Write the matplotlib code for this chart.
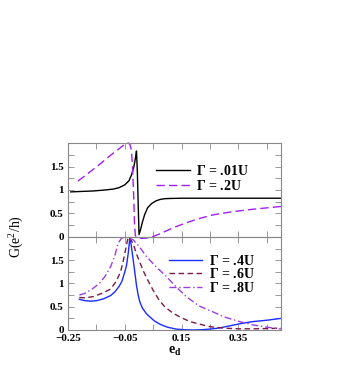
import numpy as np
import matplotlib
matplotlib.use('Agg')
import matplotlib.pyplot as plt
from matplotlib.ticker import FixedLocator, MultipleLocator, FuncFormatter

plt.rcParams['font.family'] = ['Liberation Serif', 'DejaVu Serif']
plt.rcParams['mathtext.fontset'] = 'custom'
plt.rcParams['mathtext.rm'] = 'Liberation Serif'
plt.rcParams['mathtext.bf'] = 'Liberation Serif:bold'

# top panel: Gamma = .01U (solid black) and .2U (dashed purple)
x_01 = [-0.24, -0.20, -0.16, -0.12, -0.09, -0.07, -0.05, -0.035, -0.026, -0.018, -0.012,
        -0.009, -0.006, -0.003, 0.0, 0.005, 0.012, 0.02, 0.03, 0.044, 0.06, 0.075, 0.09,
        0.11, 0.15, 0.25, 0.35, 0.5]
g_01 = [0.96, 0.97, 0.98, 1.0, 1.02, 1.05, 1.11, 1.2, 1.33, 1.5, 1.7,
        1.83, 1.4, 0.7, 0.05, 0.15, 0.32, 0.48, 0.62, 0.71, 0.77, 0.80, 0.815,
        0.82, 0.825, 0.825, 0.825, 0.825]

x_02 = [-0.215, -0.18, -0.14, -0.10, -0.07, -0.055, -0.045, -0.038, -0.032, -0.027, -0.023,
        -0.019, -0.016, -0.013, -0.005, 0.01, 0.03, 0.045, 0.07, 0.10, 0.13, 0.17, 0.21,
        0.26, 0.33, 0.40, 0.45, 0.5]
g_02 = [1.19, 1.35, 1.54, 1.74, 1.88, 1.95, 1.99, 2.0, 1.97, 1.85, 1.5,
        0.9, 0.3, 0.03, -0.02, -0.03, -0.02, 0.0, 0.06, 0.14, 0.22, 0.31, 0.39,
        0.47, 0.54, 0.59, 0.62, 0.65]

# bottom panel: Gamma = .4U, .6U, .8U
x_04 = [-0.21, -0.19, -0.17, -0.15, -0.125, -0.10, -0.085, -0.07, -0.06, -0.05, -0.044,
        -0.038, -0.032, -0.027, -0.021, -0.015, -0.009, -0.003, 0.003, 0.012, 0.026, 0.04,
        0.055, 0.075, 0.10, 0.13, 0.16, 0.19, 0.22, 0.25, 0.28, 0.32, 0.36, 0.40, 0.45, 0.5]
g_04 = [0.66, 0.63, 0.62, 0.63, 0.67, 0.74, 0.82, 0.94, 1.05, 1.25, 1.39,
        1.65, 2.0, 1.8, 1.53, 1.25, 0.96, 0.75, 0.6, 0.47, 0.35, 0.27,
        0.19, 0.12, 0.06, 0.02, 0.005, 0.0, 0.005, 0.02, 0.04, 0.09, 0.14, 0.18, 0.21, 0.25]

x_06 = [-0.21, -0.19, -0.16, -0.13, -0.10, -0.08, -0.065, -0.055, -0.045, -0.038, -0.03,
        -0.02, -0.01, 0.0, 0.015, 0.03, 0.05, 0.07, 0.09, 0.12, 0.15, 0.18, 0.21, 0.25,
        0.30, 0.35, 0.40, 0.45, 0.5]
g_06 = [0.70, 0.69, 0.72, 0.79, 0.88, 1.05, 1.25, 1.5, 1.8, 2.0, 1.95,
        1.85, 1.65, 1.5, 1.27, 1.08, 0.85, 0.65, 0.5, 0.36, 0.26, 0.18, 0.13, 0.07,
        0.04, 0.025, 0.025, 0.03, 0.04]

x_08 = [-0.21, -0.19, -0.165, -0.14, -0.12, -0.10, -0.085, -0.074, -0.062, -0.05, -0.035,
        -0.021, 0.0, 0.026, 0.06, 0.096, 0.13, 0.166, 0.21, 0.26, 0.30, 0.354, 0.40, 0.45, 0.5]
g_08 = [0.75, 0.79, 0.88, 1.0, 1.15, 1.36, 1.6, 1.86, 1.97, 2.0, 1.98,
        1.94, 1.8, 1.58, 1.36, 1.15, 0.93, 0.72, 0.52, 0.39, 0.28, 0.18, 0.11, 0.06, 0.02]

x_ticks = [-0.25, -0.05, 0.15, 0.35]
x_minor = [-0.15, 0.05, 0.25, 0.45]
y_ticks = [0, 0.5, 1, 1.5]


def fmt(v, pos):
       s = ('%g' % v)
       return s.replace('-', '\u2212')


def style_axes(ax):
       ax.set_xlim(-0.25, 0.5)
       ax.set_ylim(0, 2.0)
       ax.xaxis.set_major_locator(FixedLocator(x_ticks))
       ax.xaxis.set_minor_locator(FixedLocator(x_minor))
       ax.yaxis.set_major_locator(FixedLocator(y_ticks))
       ax.yaxis.set_minor_locator(MultipleLocator(0.25))
       ax.tick_params(which='both', direction='in', top=True, right=True,
                      color='#888888', labelsize=8, pad=3)
       ax.tick_params(which='major', length=4, width=0.6)
       ax.tick_params(which='minor', length=4, width=0.6)
       ax.yaxis.set_major_formatter(FuncFormatter(fmt))
       ax.xaxis.set_major_formatter(FuncFormatter(fmt))
       for lab in ax.get_xticklabels() + ax.get_yticklabels():
              lab.set_fontweight('bold')
       for sp in ax.spines.values():
              sp.set_color('#888888')
              sp.set_linewidth(0.8)


fig = plt.figure(figsize=(3.46, 3.68), dpi=100)
ax2 = fig.add_axes([0.1965, 0.1033, 0.616, 0.2527])
ax1 = fig.add_axes([0.1965, 0.356, 0.616, 0.2554])
ax1.patch.set_alpha(0)

ax1.plot(x_01, g_01, color='black', lw=1.0, label=r'$\mathbf{\Gamma}$ = .01U')
ax1.plot(x_02, g_02, color='#a020f0', lw=1.0, dashes=(6, 3), label=r'$\mathbf{\Gamma}$ = .2U',
         clip_on=False)

ax2.plot(x_04, g_04, color='#1a2cff', lw=1.0, label=r'$\mathbf{\Gamma}$ = .4U')
ax2.plot(x_06, g_06, color='#7a1a45', lw=1.0, dashes=(4, 2.5), label=r'$\mathbf{\Gamma}$ = .6U')
ax2.plot(x_08, g_08, color='#9a3ee8', lw=1.0, dashes=(5, 2, 1, 2), label=r'$\mathbf{\Gamma}$ = .8U')

style_axes(ax1)
style_axes(ax2)
ax1.set_xticklabels([])

leg1 = ax1.legend(loc='upper left', bbox_to_anchor=(0.413, 0.78), frameon=False,
                  prop={'weight': 'bold', 'size': 10}, handlelength=2.45,
                  handletextpad=0.4, labelspacing=0.07, borderpad=0, borderaxespad=0)
leg2 = ax2.legend(loc='upper left', bbox_to_anchor=(0.474, 0.82), frameon=False,
                  prop={'weight': 'bold', 'size': 10}, handlelength=2.4,
                  handletextpad=0.5, labelspacing=-0.04, borderpad=0, borderaxespad=0)

ax2.set_xlabel(r'$\mathbf{e_d}$', fontsize=10, labelpad=1)
fig.text(0.045, 0.356, 'G(e$^2$/h)', rotation=90, ha='center', va='center', fontsize=10)

fig.savefig('out.png', dpi=100)
